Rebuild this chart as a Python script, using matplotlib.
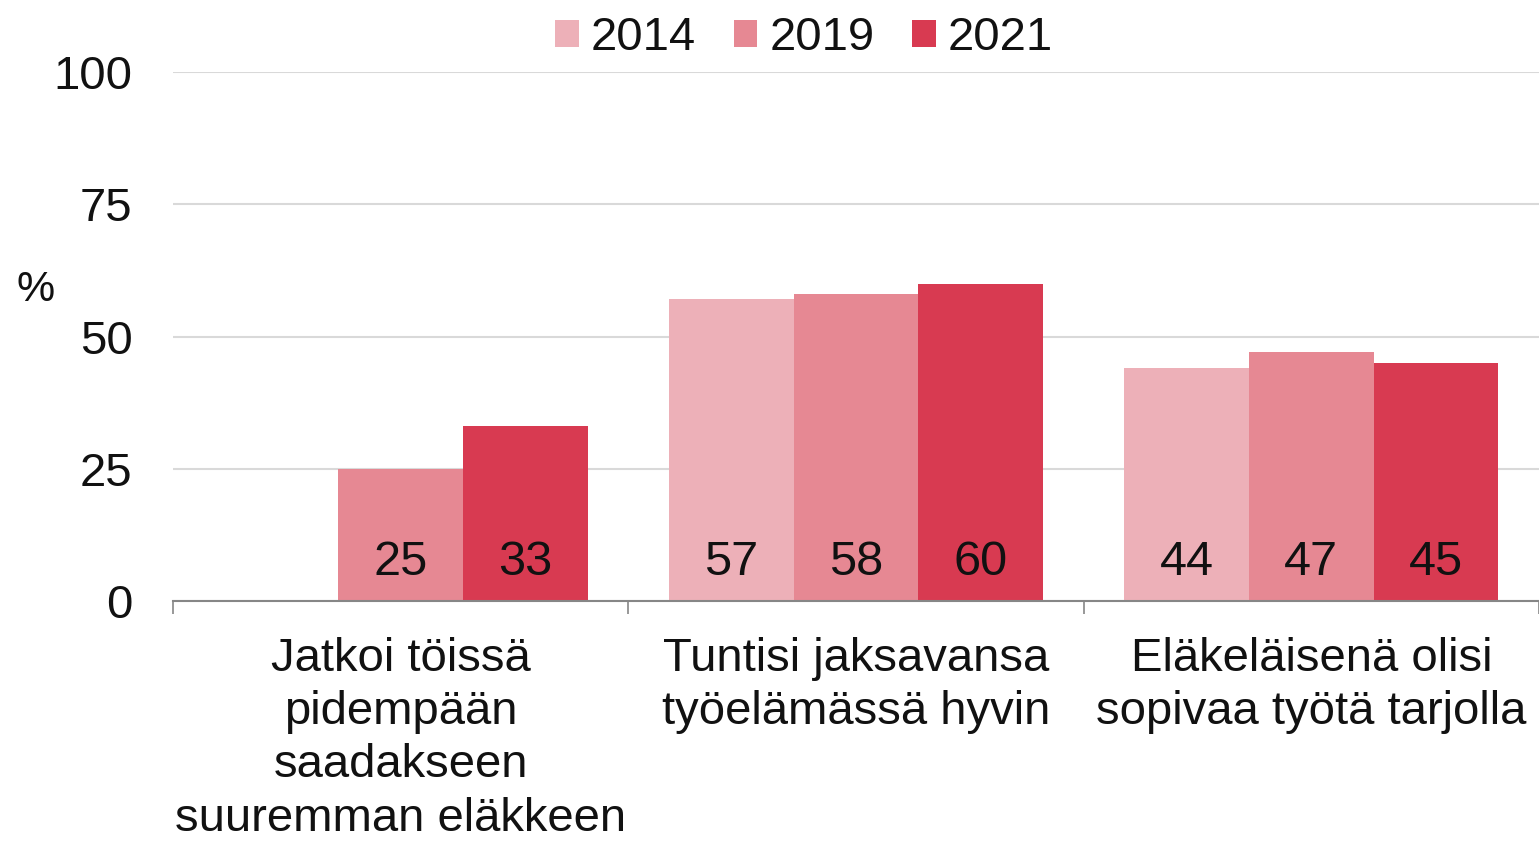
import numpy as np
import matplotlib
matplotlib.use("Agg")
import matplotlib.pyplot as plt

plt.rcParams['font.family'] = ['Liberation Sans', 'DejaVu Sans']

categories = ["Jatkoi töissä\npidempään\nsaadakseen\nsuuremman eläkkeen",
              "Tuntisi jaksavansa\ntyöelämässä hyvin",
              "Eläkeläisenä olisi\nsopivaa työtä tarjolla"]
years = ["2014", "2019", "2021"]
v2014 = [np.nan, 57, 44]
v2019 = [25, 58, 47]
v2021 = [33, 60, 45]
colors = ["#EDB0B8", "#E68893", "#D83A51"]
yticks = [0, 25, 50, 75, 100]

fig = plt.figure(figsize=(15.39, 8.42), dpi=100)
ax = fig.add_axes([173/1539, 1-601/842, 1-173/1539, (601-72)/842])

x = np.arange(len(categories))
w = 0.274
series = [v2014, v2019, v2021]
for i, (vals, c, yr) in enumerate(zip(series, colors, years)):
    pos = x + (i - 1) * w
    ax.bar(pos, vals, width=w, color=c, label=yr, zorder=2)
    for p, v in zip(pos, vals):
        if not np.isnan(v):
            ax.annotate(f"{v:.0f}", xy=(p, 0), xytext=(0, 18.5), textcoords='offset points',
                        ha='center', va='baseline', fontsize=35, color='#111111', zorder=3)

ax.set_xlim(-0.5, 2.5)
ax.set_ylim(0, 100)
ax.set_yticks(yticks)
ax.set_yticklabels([str(t) for t in yticks], fontsize=34, color='#111111')
ax.tick_params(axis='y', length=0, pad=29)
ax.yaxis.grid(True, color='#D9D9D9', linewidth=1.5, zorder=0)
ax.set_axisbelow(True)

ax.set_xticks(x)
ax.set_xticklabels(categories, fontsize=34, color='#111111', linespacing=1.27)
ax.tick_params(axis='x', length=0, pad=26)
ax.set_xticks([-0.5, 0.5, 1.5, 2.5], minor=True)
ax.tick_params(axis='x', which='minor', length=9, width=1.2, color='#868686', direction='out')

for s in ['top', 'right', 'left']:
    ax.spines[s].set_visible(False)
ax.spines['bottom'].set_color('#868686')
ax.spines['bottom'].set_linewidth(1.5)

fig.text(36/1539, 1-290/842, "%", fontsize=31, ha='center', va='center', color='#111111')

leg = fig.legend(loc='center', bbox_to_anchor=(804/1539, 1-38/842), ncol=3, frameon=False,
                 fontsize=34, handlelength=0.5, handleheight=0.5, handletextpad=0.25,
                 columnspacing=0.8, labelcolor='#111111', borderaxespad=0, borderpad=0)

fig.savefig("out.png", dpi=100)
